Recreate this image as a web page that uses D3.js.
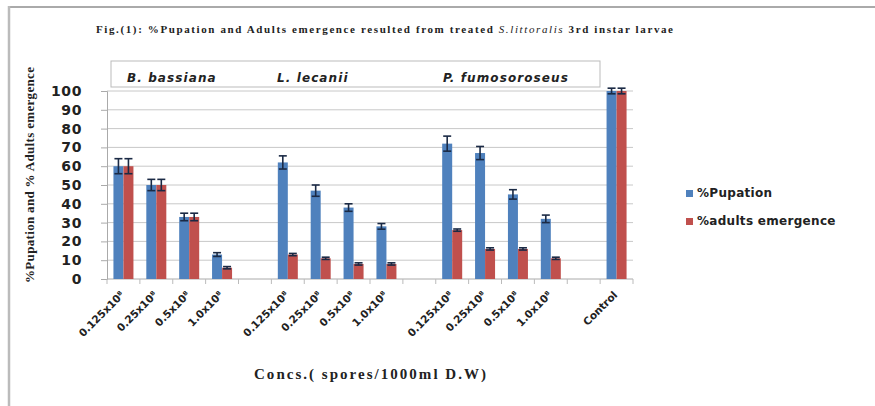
<!DOCTYPE html>
<html><head><meta charset="utf-8">
<script src="https://cdn.jsdelivr.net/npm/d3@7"></script>
<style>
html,body{margin:0;padding:0;background:#fff;}
svg{display:block;}
</style></head>
<body><svg id="c" width="875" height="406"></svg>
<script>
// ---- data ----
const groups = ["B. bassiana", "L. lecanii", "P. fumosoroseus"];
const categories = ["0.125x10\u2078","0.25x10\u2078","0.5x10\u2078","1.0x10\u2078","",
                    "0.125x10\u2078","0.25x10\u2078","0.5x10\u2078","1.0x10\u2078"," ",
                    "0.125x10\u2078","0.25x10\u2078","0.5x10\u2078","1.0x10\u2078","  ",
                    "Control"];
const pupation  = [60,50,33,13,null, 62,47,38,28,null, 72,67,45,32,null, 100];
const pupErr    = [4,3,2,1,null, 3.5,3,2,1.5,null, 4,3.5,2.5,2,null, 1.5];
const adults    = [60,50,33,6,null, 13,11,8,8,null, 26,16,16,11,null, 100];
const adultErr  = [4,3,2,0.6,null, 0.6,0.6,0.6,0.6,null, 0.6,0.6,0.6,0.6,null, 1.5];
const seriesNames = ["%Pupation", "%adults emergence"];
const colors = ["#4F81BD", "#C0504D"];
const yTicks = [0,10,20,30,40,50,60,70,80,90,100];

const svg = d3.select("#c");
const SERIF = "'Liberation Serif','Times New Roman',serif";
const SANS = "'DejaVu Sans',Verdana,sans-serif";

// outer frame (top and left edges)
svg.append("line").attr("x1",9).attr("x2",875).attr("y1",7).attr("y2",7).attr("stroke","#aaa").attr("stroke-width",2);
svg.append("line").attr("x1",9).attr("x2",9).attr("y1",6).attr("y2",406).attr("stroke","#bbb").attr("stroke-width",2.5);

// title
const title = svg.append("text").attr("x",96).attr("y",33)
  .attr("font-family",SERIF).attr("font-weight","bold")
  .attr("font-size",11).attr("fill","#222")
  .attr("textLength",577).attr("lengthAdjust","spacing");
title.append("tspan").text("Fig.(1): %Pupation and Adults emergence  resulted from treated ");
title.append("tspan").attr("font-style","italic").attr("font-weight","normal").text("S.littoralis ");
title.append("tspan").text("3rd instar larvae");

const L = 107, R = 633, T = 91, B = 279;
const x = d3.scaleBand().domain(d3.range(categories.length)).range([L,R]);
const y = d3.scaleLinear().domain([0,100]).range([B,T]);

// gridlines
svg.append("g").selectAll("line").data(yTicks.slice(1)).join("line")
  .attr("x1",L).attr("x2",R).attr("y1",d=>y(d)).attr("y2",d=>y(d))
  .attr("stroke","#c8c8c8").attr("stroke-width",1);

// y axis
const yAxis = svg.append("g").attr("transform",`translate(${L},0)`)
  .call(d3.axisLeft(y).tickValues(yTicks).tickSize(6).tickPadding(19));
yAxis.select(".domain").attr("stroke","#aaa");
yAxis.selectAll(".tick line").attr("stroke","#aaa");
yAxis.selectAll("text").attr("font-family",SANS).attr("font-weight","bold")
  .attr("font-size",14).attr("letter-spacing",0.6).attr("fill","#222");

// x axis baseline + ticks between categories
svg.append("line").attr("x1",L).attr("x2",R).attr("y1",B).attr("y2",B).attr("stroke","#aaa");
svg.append("g").selectAll("line").data(d3.range(categories.length+1)).join("line")
  .attr("x1",i=>L+i*x.step()).attr("x2",i=>L+i*x.step()).attr("y1",B).attr("y2",B+5)
  .attr("stroke","#bbb");

// bars
const bw = 10;
const seriesVals = [pupation, adults];
const seriesErr = [pupErr, adultErr];
seriesVals.forEach((vals, s) => {
  const g = svg.append("g");
  const data = vals.map((v,i)=>({i,v,e:seriesErr[s][i]})).filter(d=>d.v!=null);
  g.selectAll("rect").data(data).join("rect")
    .attr("x",d=>x(d.i)+x.bandwidth()/2 - bw + s*bw)
    .attr("y",d=>y(d.v)).attr("width",bw).attr("height",d=>B-y(d.v))
    .attr("fill",colors[s]);
});
// error bars
seriesVals.forEach((vals, s) => {
  const g = svg.append("g").attr("stroke","#1b2a45").attr("stroke-width",1.6);
  const data = vals.map((v,i)=>({i,v,e:seriesErr[s][i]})).filter(d=>d.v!=null);
  data.forEach(d=>{
    const cx = x(d.i)+x.bandwidth()/2 - bw/2 + s*bw;
    g.append("line").attr("x1",cx).attr("x2",cx).attr("y1",y(d.v+d.e)).attr("y2",y(d.v-d.e));
    g.append("line").attr("x1",cx-4).attr("x2",cx+4).attr("y1",y(d.v+d.e)).attr("y2",y(d.v+d.e));
    g.append("line").attr("x1",cx-4).attr("x2",cx+4).attr("y1",y(d.v-d.e)).attr("y2",y(d.v-d.e));
  });
});

// x tick labels
svg.append("g").selectAll("text").data(categories.map((c,i)=>({c,i})).filter(d=>d.c.trim()!=="")).join("text")
  .attr("transform",d=>`translate(${x(d.i)+x.bandwidth()/2-1},${B+14}) rotate(-45)`)
  .attr("text-anchor","end").attr("dy","0.35em")
  .attr("font-family",SANS).attr("font-weight","bold")
  .attr("font-size",10.5).attr("fill","#222").text(d=>d.c);

// species box
svg.append("rect").attr("x",111).attr("y",61).attr("width",489).attr("height",26)
  .attr("fill","none").attr("stroke","#bbb");
svg.append("g").selectAll("text").data(groups).join("text")
  .attr("x",(d,i)=>[127,277,443][i]).attr("y",82)
  .attr("font-family",SANS).attr("font-weight","bold").attr("font-style","italic")
  .attr("font-size",12).attr("letter-spacing",1.1).attr("fill","#222").text(d=>d);

// legend
const lg = svg.append("g");
seriesNames.forEach((n,i)=>{
  lg.append("rect").attr("x",686).attr("y",190+i*28).attr("width",7).attr("height",7).attr("fill",colors[i]);
  lg.append("text").attr("x",697).attr("y",197+i*28)
    .attr("font-family",SANS).attr("font-weight","bold")
    .attr("font-size",12).attr("letter-spacing",0.3).attr("fill","#222").text(n);
});

// axis titles
svg.append("text").attr("transform","translate(34,175) rotate(-90)").attr("text-anchor","middle")
  .attr("font-family",SERIF).attr("font-weight","bold")
  .attr("font-size",13).attr("fill","#222")
  .attr("textLength",216).attr("lengthAdjust","spacing")
  .text("%Pupation and % Adults emergence");
svg.append("text").attr("x",370).attr("y",379).attr("text-anchor","middle")
  .attr("font-family",SERIF).attr("font-weight","bold")
  .attr("font-size",15).attr("fill","#222")
  .attr("textLength",232).attr("lengthAdjust","spacing")
  .text("Concs.( spores/1000ml  D.W)");
</script></body></html>
